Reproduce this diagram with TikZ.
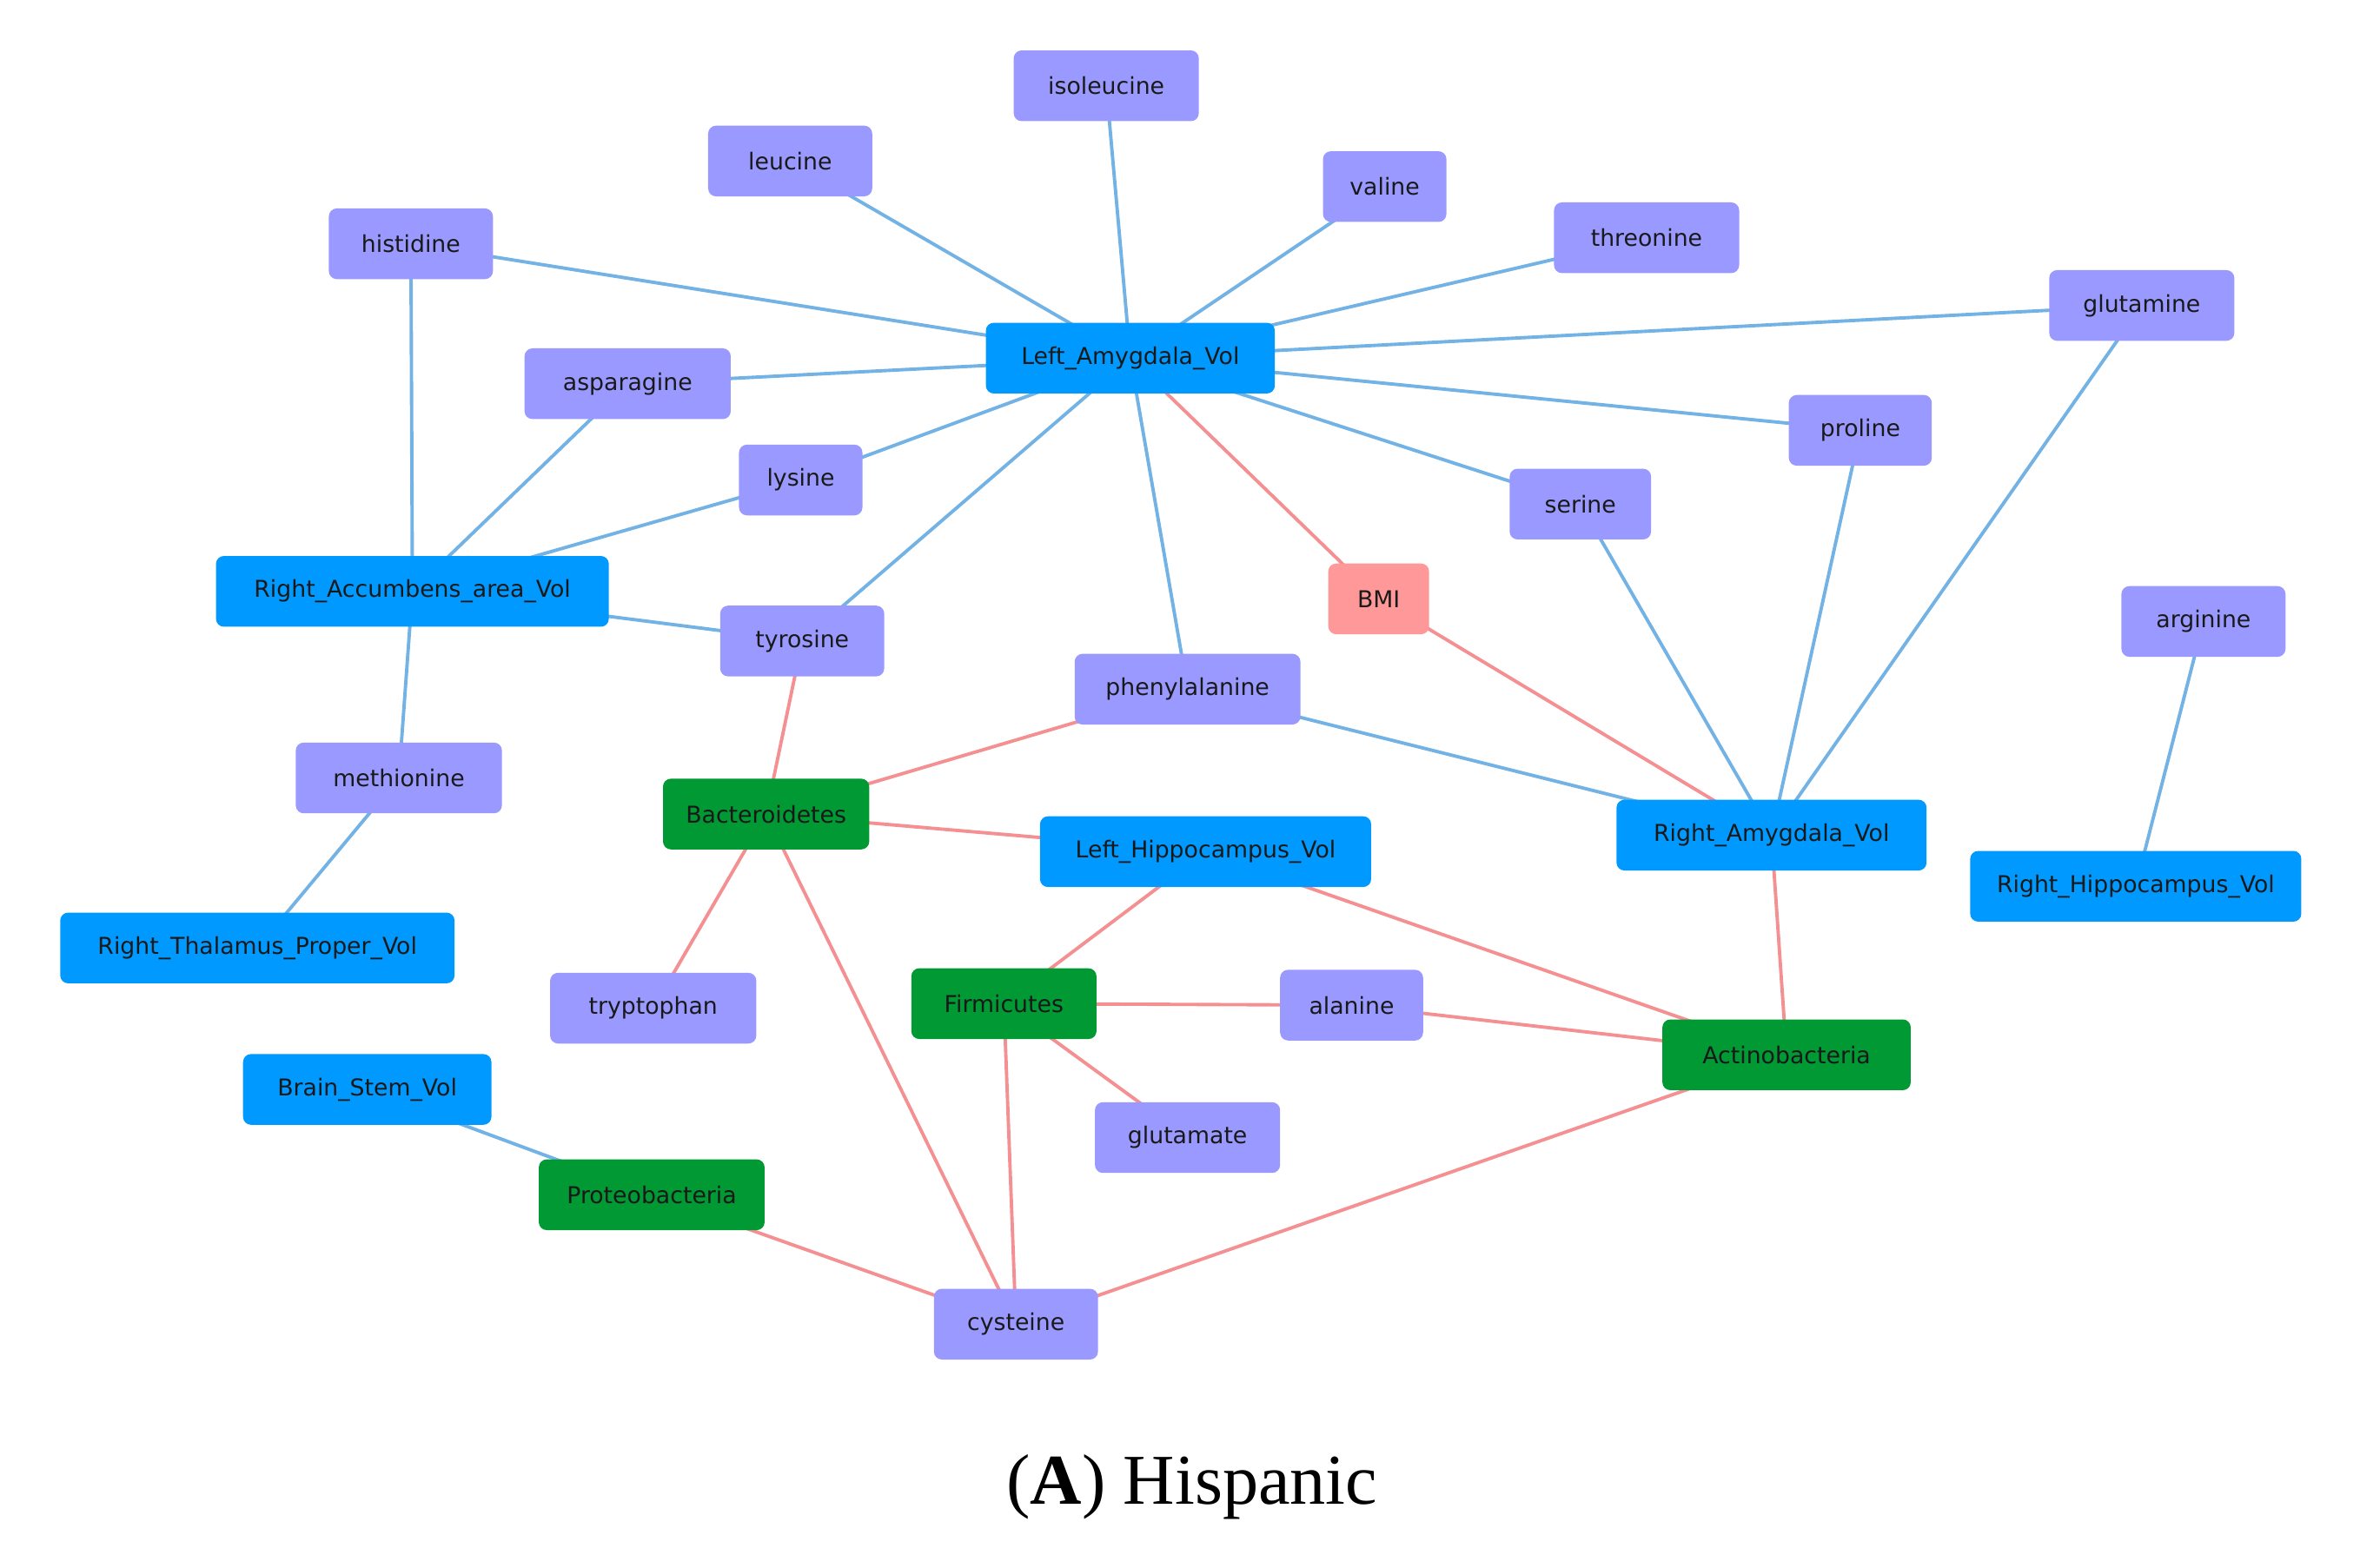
\documentclass[tikz,border=0pt]{standalone}
\usepackage{fontspec}
\setmainfont{Liberation Serif}
\newfontfamily\nodefont{DejaVu Sans}
\pgfdeclarelayer{background}
\pgfsetlayers{background,main}
\definecolor{cblue}{HTML}{0099FF}
\definecolor{cpurple}{HTML}{9999FF}
\definecolor{cpink}{HTML}{FF9999}
\definecolor{cgreen}{HTML}{009933}
\definecolor{eblue}{HTML}{72B2E4}
\definecolor{ered}{HTML}{F49092}
\tikzset{
  bx/.style={rounded corners=2.6pt, minimum height=47*0.017321cm, minimum width=#1*0.017321cm,
    inner sep=0pt, font=\nodefont\fontsize{7.6}{9}\selectfont, text=black!90},
  nblue/.style={bx=#1, fill=cblue},
  npurp/.style={bx=#1, fill=cpurple},
  npink/.style={bx=#1, fill=cpink},
  ngreen/.style={bx=#1, fill=cgreen},
  eb/.style={draw=eblue, line width=1.1pt},
  er/.style={draw=ered, line width=1.1pt},
}
\begin{document}
\begin{tikzpicture}[x=0.017321cm,y=-0.017321cm]
\useasboundingbox (0,0) rectangle (1568,1042);
\node[npurp=123] (iso) at (735,57) {isoleucine};
\node[npurp=109] (leu) at (525,107) {leucine};
\node[npurp=82] (val) at (920,124) {valine};
\node[npurp=123] (thr) at (1094,158) {threonine};
\node[npurp=109] (his) at (273,162) {histidine};
\node[npurp=123] (gln) at (1423,203) {glutamine};
\node[nblue=192] (la) at (751,238) {Left\_Amygdala\_Vol};
\node[npurp=137] (asn) at (417,255) {asparagine};
\node[npurp=95] (pro) at (1236,286) {proline};
\node[npurp=82] (lys) at (532,319) {lysine};
\node[npurp=94] (ser) at (1050,335) {serine};
\node[npink=67] (bmi) at (916,398) {BMI};
\node[nblue=261] (racc) at (274,393) {Right\_Accumbens\_area\_Vol};
\node[npurp=109] (tyr) at (533,426) {tyrosine};
\node[npurp=109] (arg) at (1464,413) {arginine};
\node[npurp=150] (phe) at (789,458) {phenylalanine};
\node[npurp=137] (met) at (265,517) {methionine};
\node[ngreen=137] (bac) at (509,541) {Bacteroidetes};
\node[nblue=220] (lh) at (801,566) {Left\_Hippocampus\_Vol};
\node[nblue=206] (ra) at (1177,555) {Right\_Amygdala\_Vol};
\node[nblue=220] (rh) at (1419,589) {Right\_Hippocampus\_Vol};
\node[nblue=262] (rt) at (171,630) {Right\_Thalamus\_Proper\_Vol};
\node[npurp=137] (trp) at (434,670) {tryptophan};
\node[ngreen=123] (fir) at (667,667) {Firmicutes};
\node[npurp=95] (ala) at (898,668) {alanine};
\node[ngreen=165] (act) at (1187,701) {Actinobacteria};
\node[nblue=165] (bs) at (244,724) {Brain\_Stem\_Vol};
\node[npurp=123] (glu) at (789,756) {glutamate};
\node[ngreen=150] (prot) at (433,794) {Proteobacteria};
\node[npurp=109] (cys) at (675,880) {cysteine};
\node[font=\fontsize{23.4}{28}\selectfont] (cap) at (792,988) {(\textbf{A}) Hispanic};
\begin{pgfonlayer}{background}
\foreach \a in {iso,leu,val,thr,his,gln,asn,pro,lys,ser,tyr,phe}
  \draw[eb] (\a.center) -- (la.center);
\draw[eb] (his.center) -- (racc.center);
\draw[eb] (asn.center) -- (racc.center);
\draw[eb] (lys.center) -- (racc.center);
\draw[eb] (racc.center) -- (tyr.center);
\draw[eb] (racc.center) -- (met.center);
\draw[eb] (met.center) -- (rt.center);
\draw[eb] (phe.center) -- (ra.center);
\draw[eb] (ser.center) -- (ra.center);
\draw[eb] (pro.center) -- (ra.center);
\draw[eb] (gln.center) -- (ra.center);
\draw[eb] (arg.center) -- (rh.center);
\draw[eb] (bs.center) -- (prot.center);
\draw[er] (la.center) -- (bmi.center);
\draw[er] (bmi.center) -- (ra.center);
\draw[er] (tyr.center) -- (bac.center);
\draw[er] (bac.center) -- (phe.center);
\draw[er] (bac.center) -- (lh.center);
\draw[er] (bac.center) -- (trp.center);
\draw[er] (bac.center) -- (cys.center);
\draw[er] (lh.center) -- (fir.center);
\draw[er] (lh.center) -- (act.center);
\draw[er] (fir.center) -- (ala.center);
\draw[er] (ala.center) -- (act.center);
\draw[er] (fir.center) -- (glu.center);
\draw[er] (fir.center) -- (cys.center);
\draw[er] (ra.center) -- (act.center);
\draw[er] (act.center) -- (cys.center);
\draw[er] (prot.center) -- (cys.center);
\end{pgfonlayer}
\end{tikzpicture}
\end{document}
